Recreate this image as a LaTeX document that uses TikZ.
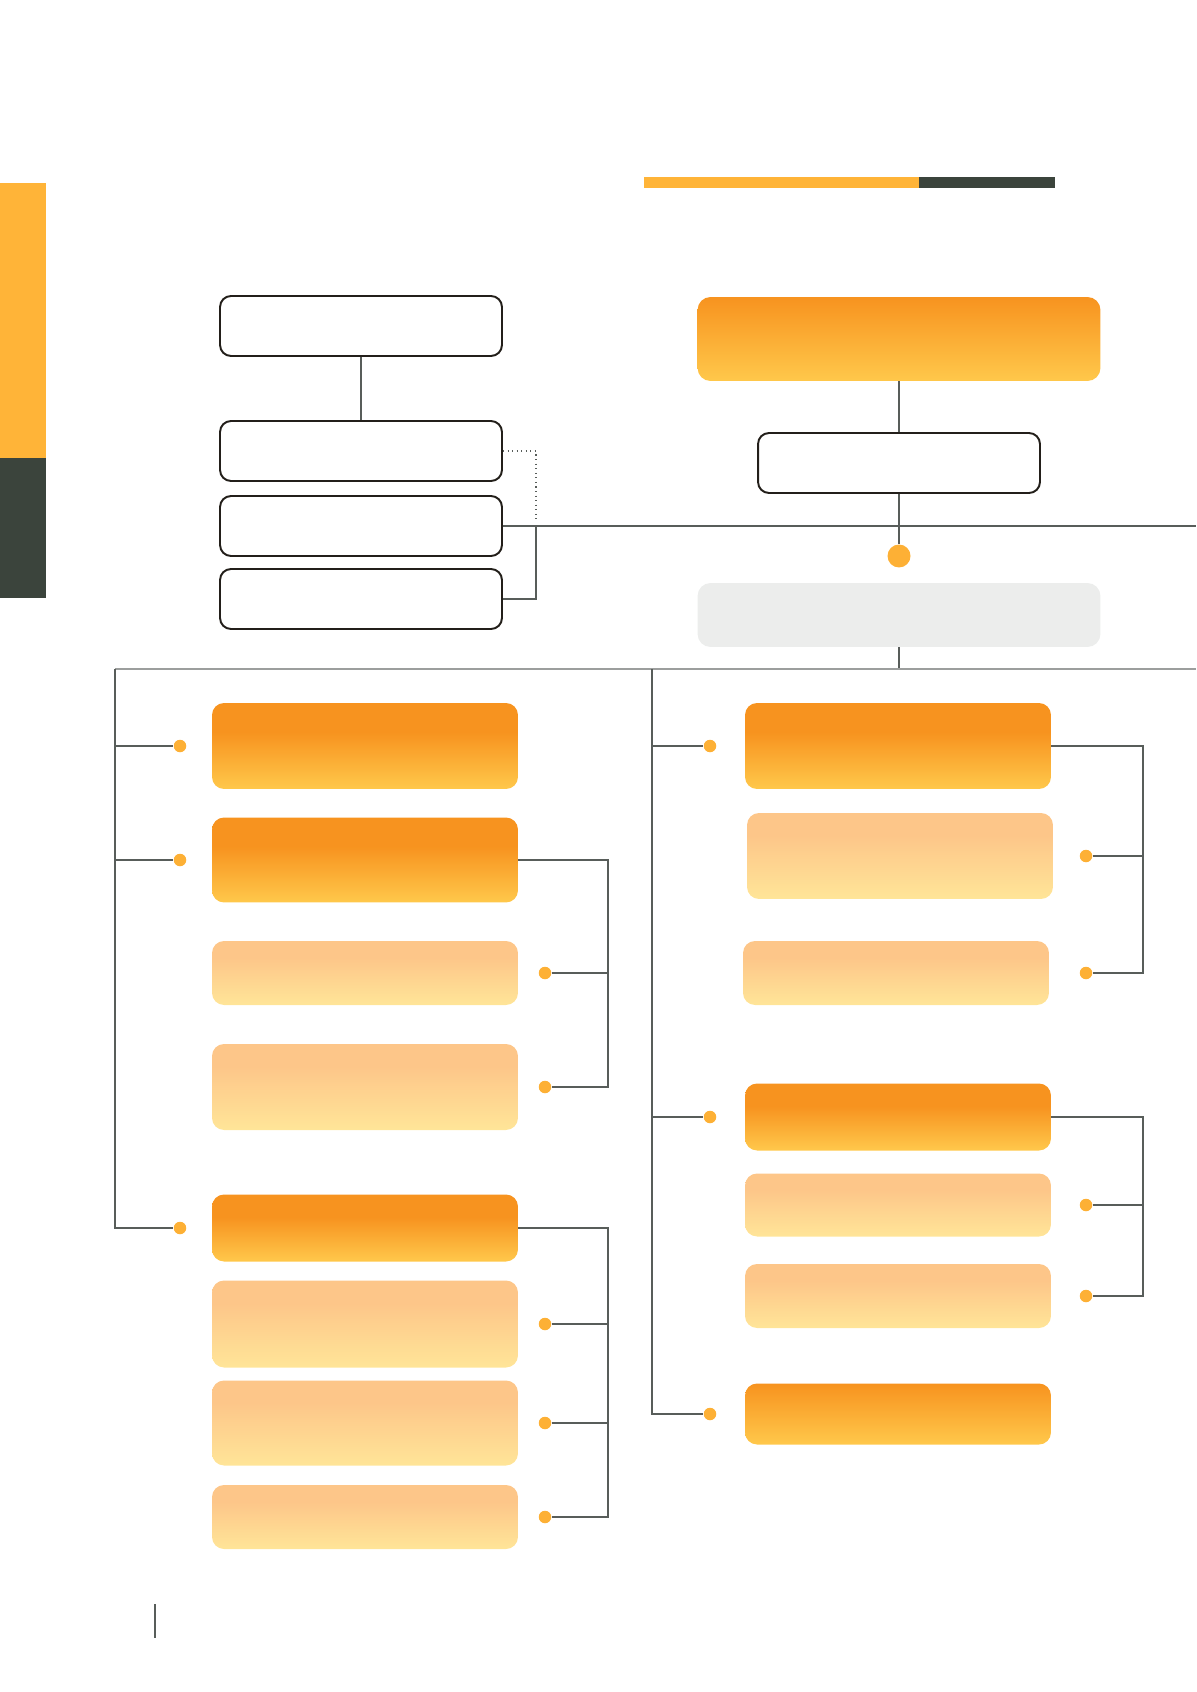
\documentclass[tikz,border=0pt]{standalone}
\usepackage{tikz}
\usetikzlibrary{calc}

\definecolor{barorange}{HTML}{FFB438}
\definecolor{bardark}{HTML}{3B443C}
\definecolor{dotorange}{HTML}{FDB035}
\definecolor{deeptop}{HTML}{F7931F}
\definecolor{deepbot}{HTML}{FFC84B}
\definecolor{paletop}{HTML}{FDC689}
\definecolor{palebot}{HTML}{FFE598}
\definecolor{panelgray}{HTML}{ECEDEC}
\definecolor{wireline}{HTML}{585D5A}
\definecolor{trunkline}{HTML}{9C9E9D}
\definecolor{boxline}{HTML}{231F1A}

\pgfdeclareverticalshading{deepfill}{100bp}{color(0bp)=(deepbot); color(25bp)=(deepbot); color(58bp)=(deeptop); color(100bp)=(deeptop)}
\pgfdeclareverticalshading{palefill}{100bp}{color(0bp)=(palebot); color(25bp)=(palebot); color(62bp)=(paletop); color(100bp)=(paletop)}
\pgfdeclareverticalshading{headfill}{100bp}{color(0bp)=(deepbot); color(25bp)=(deepbot); color(75bp)=(deeptop); color(100bp)=(deeptop)}

\begin{document}
\begin{tikzpicture}[x=0.02cm, y=-0.02cm,
  framebox/.style={draw=boxline, line width=1.1pt, rounded corners=0.22cm, fill=white,
    minimum width=5.64cm, minimum height=1.2cm, inner sep=0pt},
  deepbox/.style={shading=deepfill, rounded corners=0.24cm, minimum width=6.12cm, inner sep=0pt},
  palebox/.style={shading=palefill, rounded corners=0.24cm, minimum width=6.12cm, inner sep=0pt},
  headbox/.style={shading=headfill, rounded corners=0.26cm, minimum width=8.06cm, inner sep=0pt},
  graybox/.style={fill=panelgray, rounded corners=0.26cm, minimum width=8.06cm, inner sep=0pt},
  dot/.style={circle, fill=dotorange, inner sep=0pt, minimum size=0.25cm},
  bigdot/.style={circle, fill=dotorange, inner sep=0pt, minimum size=0.46cm},
  wire/.style={draw=wireline, line width=0.6pt},
  trunk/.style={draw=trunkline, line width=0.9pt}]
  \useasboundingbox (0,0) rectangle (1196,1692);

  % side and top bars
  \fill[barorange] (0,183) rectangle (46,458);
  \fill[bardark] (0,458) rectangle (46,598);
  \fill[barorange] (644,177) rectangle (919,188);
  \fill[bardark] (919,177) rectangle (1055,188);
  % page marker
  \draw[wire] (155,1604) -- (155,1638);

  % upper left stack
  \node[framebox] (kA) at (361,326) {};
  \node[framebox] (kB) at (361,451) {};
  \node[framebox] (kC) at (361,526) {};
  \node[framebox] (kD) at (361,599) {};
  \coordinate (jn) at (536,526);
  \coordinate (edgeC) at (1196,526);

  % upper right stack
  \node[headbox, minimum height=1.68cm] (head) at (899,339) {};
  \node[framebox] (kE) at (899,463) {};
  \node[bigdot] (hub) at (899,556) {};
  \node[graybox, minimum height=1.28cm] (panel) at (899,615) {};

  % trunks and pin columns
  \coordinate (trunkL) at (115,669);
  \coordinate (trunkR) at (652,669);
  \coordinate (edgeT) at (1196,669);
  \coordinate (pinA) at (180,0);
  \coordinate (pinB) at (710,0);
  \coordinate (pinL) at (545,0);
  \coordinate (pinR) at (1086,0);
  \coordinate (bkL) at (608,0);
  \coordinate (bkR) at (1143,0);

  % lower left column
  \node[deepbox, minimum height=1.72cm] (L1) at (365,746) {};
  \node[deepbox, minimum height=1.70cm] (L2) at (365,860) {};
  \node[palebox, minimum height=1.28cm] (L3) at (365,973) {};
  \node[palebox, minimum height=1.72cm] (L4) at (365,1087) {};
  \node[deepbox, minimum height=1.34cm] (L5) at (365,1228) {};
  \node[palebox, minimum height=1.74cm] (L6) at (365,1324) {};
  \node[palebox, minimum height=1.70cm] (L7) at (365,1423) {};
  \node[palebox, minimum height=1.28cm] (L8) at (365,1517) {};

  % lower right column
  \node[deepbox, minimum height=1.72cm] (R1) at (898,746) {};
  \node[palebox, minimum height=1.72cm] (R2) at (900,856) {};
  \node[palebox, minimum height=1.28cm] (R3) at (896,973) {};
  \node[deepbox, minimum height=1.34cm] (R4) at (898,1117) {};
  \node[palebox, minimum height=1.26cm] (R5) at (898,1205) {};
  \node[palebox, minimum height=1.28cm] (R6) at (898,1296) {};
  \node[headbox, minimum width=6.12cm, minimum height=1.22cm, rounded corners=0.24cm] (R7) at (898,1414) {};

  % pins
  \foreach \k in {L1,L2,L5} \node[dot] (d\k) at (\k -| pinA) {};
  \foreach \k in {R1,R4,R7} \node[dot] (d\k) at (\k -| pinB) {};
  \foreach \k in {L3,L4,L6,L7,L8} \node[dot] (d\k) at (\k -| pinL) {};
  \foreach \k in {R2,R3,R5,R6} \node[dot] (d\k) at (\k -| pinR) {};

  % upper links
  \draw[wire] (kA) -- (kB);
  \draw[wire, dotted] (kB.east) -| ($(jn)+(0,-6)$);
  \draw[wire] (kC.east) -- (edgeC);
  \draw[wire] (kD.east) -| (jn);
  \draw[wire] (head) -- (kE);
  \draw[wire] (kE) -- (hub);
  \draw[wire] (panel.south) -- (panel.south |- trunkL);
  \draw[trunk] (trunkL) -- (edgeT);

  % trunk branches
  \draw[wire] (trunkL) |- (dL5);
  \draw[wire] (dL1 -| trunkL) -- (dL1);
  \draw[wire] (dL2 -| trunkL) -- (dL2);
  \draw[wire] (trunkR) |- (dR7);
  \draw[wire] (dR1 -| trunkR) -- (dR1);
  \draw[wire] (dR4 -| trunkR) -- (dR4);

  % brackets
  \draw[wire] (L2.east) -| (L4 -| bkL) -- (dL4);
  \draw[wire] (dL3) -- (dL3 -| bkL);
  \draw[wire] (L5.east) -| (L8 -| bkL) -- (dL8);
  \draw[wire] (dL6) -- (dL6 -| bkL);
  \draw[wire] (dL7) -- (dL7 -| bkL);
  \draw[wire] (R1.east) -| (R3 -| bkR) -- (dR3);
  \draw[wire] (dR2) -- (dR2 -| bkR);
  \draw[wire] (R4.east) -| (R6 -| bkR) -- (dR6);
  \draw[wire] (dR5) -- (dR5 -| bkR);
\end{tikzpicture}
\end{document}
